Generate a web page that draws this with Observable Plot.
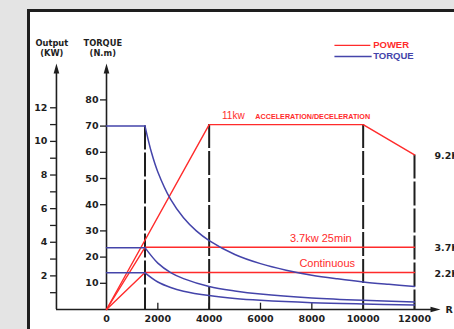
<!DOCTYPE html>
<html><head><meta charset="utf-8">
<script src="https://cdn.jsdelivr.net/npm/d3@7"></script>
<script src="https://cdn.jsdelivr.net/npm/@observablehq/plot@0.6"></script>
<style>
body{margin:0;background:#e4e4e4;}
#wrap{position:relative;width:454px;height:329px;overflow:hidden;background:#e4e4e4;}
#panel{position:absolute;left:27px;top:9px;width:500px;height:400px;background:#fff;border:3px solid #1e1e1e;box-sizing:border-box;}
#chart{position:absolute;left:0;top:0;}
#chart svg{background:transparent;overflow:visible;}
</style></head><body><div id="wrap"><div id="panel"></div><div id="chart"></div></div>
<script>
// ---- data ----
const rpmTicks = [0, 2000, 4000, 6000, 8000, 10000, 12000];
const rpmTickLabels = ["0", "2000", "4000", "6000", "8000", "10000", "12000"];
const torqueTicks = [10, 20, 30, 40, 50, 60, 70, 80];
const kwTicks = [2, 4, 6, 8, 10, 12];
const kwMinorTicks = [1, 3, 5, 7, 9, 11];

const powerNames = ["11kw", "3.7kw", "2.2kw"];
const power11Rpm = [0, 4000, 10000, 12000];
const power11Kw  = [0, 11, 11, 9.2];
const power37Rpm = [0, 1500, 12000];
const power37Kw  = [0, 3.7, 3.7];
const power22Rpm = [0, 1500, 12000];
const power22Kw  = [0, 2.2, 2.2];

const torque11Rpm = [0, 1500, 1750, 2000, 2500, 3000, 3500, 4000, 5000, 6000, 7000, 8000, 9000, 10000, 11000, 12000];
const torque11Nm  = [70, 70, 60, 52.5, 42, 35, 30, 26.3, 21, 17.5, 15, 13.1, 11.7, 10.5, 9.6, 8.8];
const torque37Rpm = [0, 1500, 2000, 2500, 3000, 4000, 5000, 6000, 8000, 10000, 12000];
const torque37Nm  = [23.6, 23.6, 17.7, 14.1, 11.8, 8.8, 7.1, 5.9, 4.4, 3.5, 2.9];
const torque22Rpm = [0, 1500, 2000, 2500, 3000, 4000, 5000, 6000, 8000, 10000, 12000];
const torque22Nm  = [14, 14, 10.5, 8.4, 7, 5.3, 4.2, 3.5, 2.6, 2.1, 1.75];

const dashRpm = [1500, 4000, 10000, 12000];
const dashTopNm = [70, 70.6, 70.6, 59.0];

const rightLabels = ["9.2KW", "3.7KW", "2.2KW"];
const rightLabelKw = [9.2, 3.7, 2.2];

// ---- layout helpers ----
const K = 6.416;           // kW -> torque-axis units
const kwAxisRpm = -1950;    // position of the output axis
const axisTopNm = 93.9;
const axisEndRpm = 13013;
const RED = "#ff2b2b", BLUE = "#4444aa", INK = "#1e1e1e";
const NUM = "DejaVu Sans, sans-serif";
const SANS = "Liberation Sans, Arial, sans-serif";

const powerRows = [];
[[power11Rpm, power11Kw], [power37Rpm, power37Kw], [power22Rpm, power22Kw]].forEach(([r, k], i) =>
  r.forEach((v, j) => powerRows.push({s: powerNames[i], rpm: v, y: k[j] * K})));

const torqueRows = [];
[[torque11Rpm, torque11Nm], [torque37Rpm, torque37Nm], [torque22Rpm, torque22Nm]].forEach(([r, t], i) =>
  r.forEach((v, j) => {
    if (v <= 1500) torqueRows.push({s: i + "a", rpm: v, nm: t[j]});
    if (v >= 1500) torqueRows.push({s: i + "b", rpm: v, nm: t[j]});
  }));

const arrowSymbol = {draw(ctx) { ctx.moveTo(0, 0); ctx.lineTo(-2.8, 10); ctx.lineTo(2.8, 10); ctx.closePath(); }};

const chart = Plot.plot({
  width: 454, height: 329, margin: 0,
  x: {domain: [0, 12000], range: [106, 414], axis: null},
  y: {domain: [0, 80], range: [309, 99.4], axis: null},
  style: {background: "transparent"},
  marks: [
    // dashed verticals
    Plot.ruleX(dashRpm, {x: d => d, y1: (d, i) => dashTopNm[i], y2: 0, stroke: INK, strokeWidth: 2, strokeDasharray: "24,3"}),
    // axes
    Plot.ruleX([kwAxisRpm, 0], {x: d => d, y1: 0, y2: axisTopNm - 2, stroke: INK, strokeWidth: 1.6}),
    Plot.ruleY([0], {x1: kwAxisRpm, x2: axisEndRpm - 300, stroke: INK, strokeWidth: 1.6}),
    Plot.dot([kwAxisRpm, 0], {x: d => d, y: axisTopNm, symbol: arrowSymbol, fill: INK, stroke: "none"}),
    Plot.dot([axisEndRpm], {x: d => d, y: 0, symbol: arrowSymbol, rotate: 90, fill: INK, stroke: "none"}),
    // ticks
    Plot.ruleY(kwTicks.concat(kwMinorTicks), {y: d => d * K, x1: kwAxisRpm, x2: kwAxisRpm - 230, stroke: INK, strokeWidth: 1.3}),
    Plot.ruleY(torqueTicks, {y: d => d, x1: 0, x2: -235, stroke: INK, strokeWidth: 1.3}),
    Plot.ruleX(rpmTicks.slice(1), {x: d => d, y1: 0, y2: 2.4, stroke: INK, strokeWidth: 1.3}),
    // tick labels
    Plot.text(kwTicks, {x: kwAxisRpm, y: d => d * K, text: d => String(d), dx: -9, textAnchor: "end", fontFamily: NUM, fontWeight: "bold", fontSize: 9.5, fill: INK}),
    Plot.text(torqueTicks, {x: 0, y: d => d, text: d => String(d), dx: -8, textAnchor: "end", fontFamily: NUM, fontWeight: "bold", fontSize: 9.5, fill: INK}),
    Plot.text(rpmTicks, {x: d => d, y: 0, text: (d, i) => rpmTickLabels[i], dy: 9, fontFamily: NUM, fontWeight: "bold", fontSize: 9.5, fill: INK}),
    // axis titles
    Plot.text(["Output\n(KW)"], {x: kwAxisRpm - 180, y: axisTopNm, text: d => d, dy: -7, lineAnchor: "bottom", lineHeight: 1.25, fontFamily: NUM, fontWeight: "bold", fontSize: 8.3, fill: INK}),
    Plot.text(["TORQUE\n(N.m)"], {x: -145, y: axisTopNm, text: d => d, dy: -7, lineAnchor: "bottom", lineHeight: 1.25, fontFamily: NUM, fontWeight: "bold", fontSize: 8.3, fill: INK}),
    Plot.text(["R"], {x: axisEndRpm, y: 0, text: d => d, dx: 5, dy: 0, textAnchor: "start", fontFamily: NUM, fontWeight: "bold", fontSize: 9.5, fill: INK}),
    // curves
    Plot.line(powerRows, {x: "rpm", y: "y", z: "s", stroke: RED, strokeWidth: 1.4}),
    Plot.line(torqueRows, {x: "rpm", y: "nm", z: "s", stroke: BLUE, strokeWidth: 1.5, curve: "catmull-rom"}),
    // annotations
    Plot.text(["11kw"], {x: 4500, y: 11 * K, text: d => d, dy: -9, textAnchor: "start", fontFamily: SANS, fontSize: 10, fill: RED}),
    Plot.text(["ACCELERATION/DECELERATION"], {x: 5800, y: 11 * K, text: d => d, dy: -8, textAnchor: "start", fontFamily: SANS, fontWeight: "bold", fontSize: 7.2, fill: RED}),
    Plot.text(["3.7kw 25min"], {x: 8350, y: 3.7 * K, text: d => d, dy: -9, fontFamily: SANS, fontSize: 11, fill: RED}),
    Plot.text(["Continuous"], {x: 8600, y: 2.2 * K, text: d => d, dy: -9, fontFamily: SANS, fontSize: 11, fill: RED}),
    Plot.text(rightLabels, {x: 12000, y: (d, i) => rightLabelKw[i] * K, text: d => d, dx: 20, dy: 1, textAnchor: "start", fontFamily: NUM, fontWeight: "bold", fontSize: 9.5, fill: INK}),
    // legend
    Plot.ruleY([0], {y: 100.8, x1: 8900, x2: 10300, stroke: RED, strokeWidth: 1.2}),
    Plot.ruleY([0], {y: 96.6, x1: 8900, x2: 10350, stroke: BLUE, strokeWidth: 1.5}),
    Plot.text(["POWER"], {x: 10350, y: 100.8, text: d => d, dx: 1, dy: 0, textAnchor: "start", fontFamily: SANS, fontWeight: "bold", fontSize: 9.5, fill: RED}),
    Plot.text(["TORQUE"], {x: 10350, y: 96.6, text: d => d, dx: 1, dy: 0, textAnchor: "start", fontFamily: SANS, fontWeight: "bold", fontSize: 9.5, fill: BLUE})
  ]
});
document.getElementById("chart").appendChild(chart);
</script>
</body></html>
